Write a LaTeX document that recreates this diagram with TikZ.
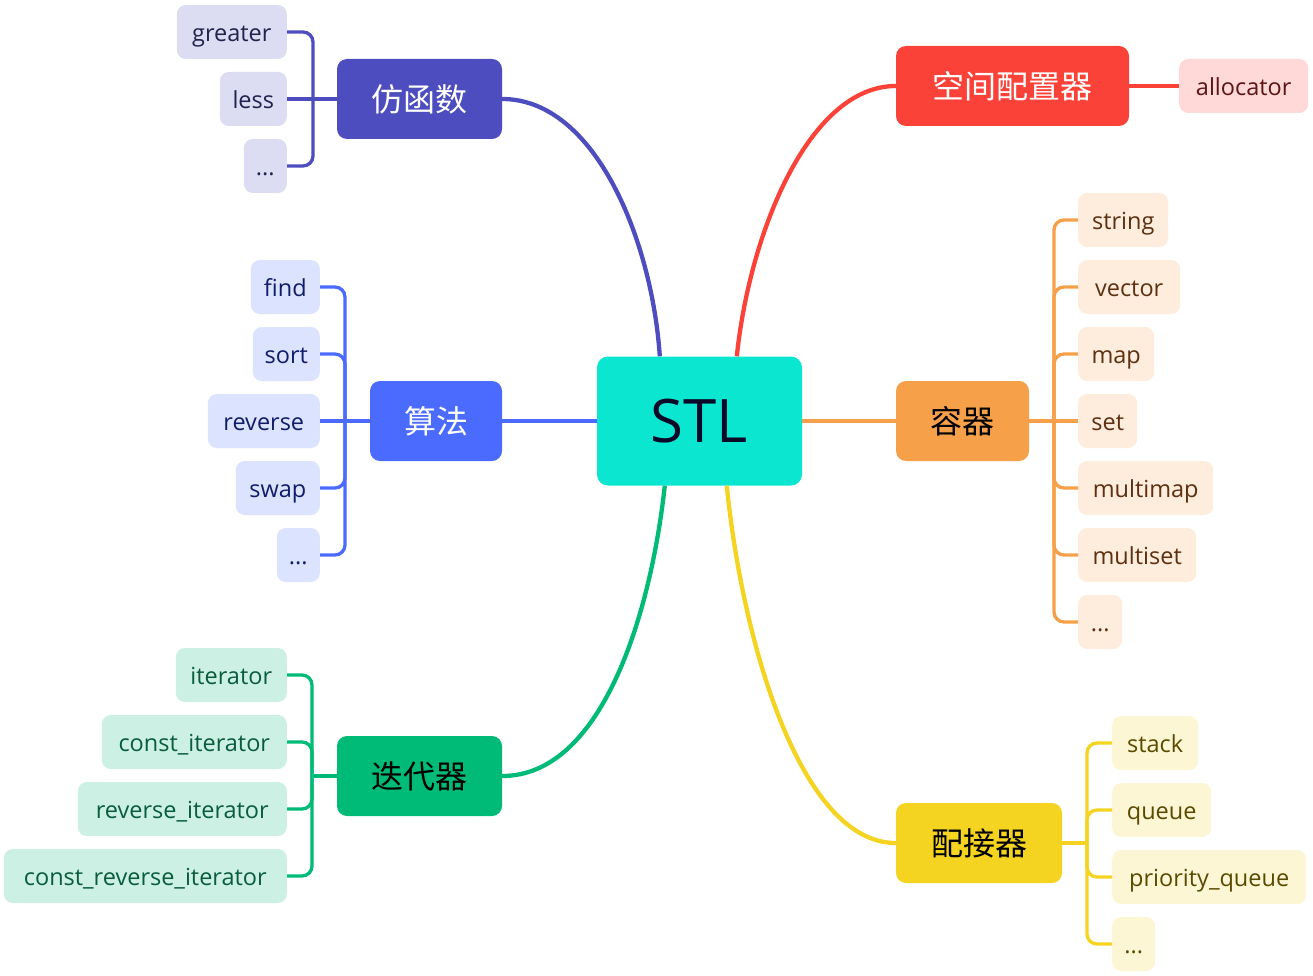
\documentclass[tikz,border=0pt]{standalone}
\usepackage{fontspec}
\setmainfont{Open Sans}
\newfontfamily\cjk{Noto Sans CJK SC}
\usetikzlibrary{calc}
\definecolor{cP}{HTML}{4D4DC0}
\definecolor{cR}{HTML}{FA4238}
\definecolor{cB}{HTML}{4A6BFE}
\definecolor{cO}{HTML}{F7A04A}
\definecolor{cG}{HTML}{00BB77}
\definecolor{cY}{HTML}{F4D421}
\definecolor{cC}{HTML}{0BE6D0}
\definecolor{lP}{HTML}{DCDCF2}
\definecolor{lB}{HTML}{DCE3FF}
\definecolor{lG}{HTML}{CCF1E4}
\definecolor{lR}{HTML}{FED9D7}
\definecolor{lO}{HTML}{FEECDC}
\definecolor{lY}{HTML}{FDF6D4}
\definecolor{tP}{HTML}{22224E}
\definecolor{tB}{HTML}{101E6A}
\definecolor{tG}{HTML}{0A5C3E}
\definecolor{tR}{HTML}{5C1414}
\definecolor{tO}{HTML}{5C3010}
\definecolor{tY}{HTML}{5A4A00}
\definecolor{tN}{HTML}{0A0A28}
\tikzset{
  mainbox/.style={rounded corners=10pt, minimum height=80pt, inner sep=0pt, font=\cjk\fontsize{32}{38}\selectfont},
  leafbox/.style={rounded corners=9pt, minimum height=54pt, inner sep=0pt, text height=19.5pt, text depth=0.5pt, font=\fontsize{23.5}{28}\selectfont},
  mainline/.style={line width=4.3pt},
  subline/.style={line width=3.3pt, rounded corners=10pt},
}
\begin{document}
\begin{tikzpicture}[x=1pt,y=-1pt]
\useasboundingbox (0,0) rectangle (1313,976);
% center
\node[rounded corners=11pt, fill=cC, minimum width=205pt, minimum height=129pt, inner sep=0pt, text=tN, font=\fontsize{60}{70}\selectfont] (stl) at (699.5,421) {STL};
% main branches
\node[mainbox, fill=cP, text=white, minimum width=165pt] (fh) at (419.5,99) {仿函数};
\node[mainbox, fill=cR, text=white, minimum width=233pt] (kj) at (1012.5,86) {空间配置器};
\node[mainbox, fill=cB, text=white, minimum width=132pt] (sf) at (436,421) {算法};
\node[mainbox, fill=cO, text=black, minimum width=133pt] (rq) at (962.5,421) {容器};
\node[mainbox, fill=cG, text=black, minimum width=165pt] (dd) at (419.5,776) {迭代器};
\node[mainbox, fill=cY, text=black, minimum width=166pt] (pj) at (979,843) {配接器};
% main connectors
\draw[mainline, cP] (fh.east) .. controls (595,99) and (652,240) .. ([xshift=63pt]stl.north west);
\draw[mainline, cR] ([xshift=140pt]stl.north west) .. controls (750,230) and (810,86) .. (kj.west);
\draw[mainline, cB] (sf.east) -- (stl.west);
\draw[mainline, cO] (stl.east) -- (rq.west);
\draw[mainline, cG] ([xshift=68pt]stl.south west) .. controls (650,620) and (600,776) .. (dd.east);
\draw[mainline, cY] ([xshift=130pt]stl.south west) .. controls (742,640) and (800,843) .. (pj.west);
% leaves: functors
\node[leafbox, fill=lP, text=tP, minimum width=110pt, anchor=east] (greater) at (287,32) {greater};
\node[leafbox, fill=lP, text=tP, minimum width=67pt, anchor=east] (less) at (287,99) {less};
\node[leafbox, fill=lP, text=tP, minimum width=43pt, anchor=east] (fdots) at (287,166) {...};
\coordinate (jP) at (313,99);
\draw[subline, cP] (fh.west) -- (jP);
\draw[subline, cP] (jP) |- (greater.east);
\draw[subline, cP] (jP) -- (less.east);
\draw[subline, cP] (jP) |- (fdots.east);
% leaves: algorithms
\node[leafbox, fill=lB, text=tB, minimum width=69pt, anchor=east] (find) at (320,287) {find};
\node[leafbox, fill=lB, text=tB, minimum width=67pt, anchor=east] (sort) at (320,354) {sort};
\node[leafbox, fill=lB, text=tB, minimum width=112pt, anchor=east] (reverse) at (320,421) {reverse};
\node[leafbox, fill=lB, text=tB, minimum width=84pt, anchor=east] (swap) at (320,488) {swap};
\node[leafbox, fill=lB, text=tB, minimum width=43pt, anchor=east] (adots) at (320,555) {...};
\coordinate (jB) at (345,421);
\draw[subline, cB] (sf.west) -- (jB);
\draw[subline, cB] (jB) |- (find.east);
\draw[subline, cB] (jB) |- (sort.east);
\draw[subline, cB] (jB) -- (reverse.east);
\draw[subline, cB] (jB) |- (swap.east);
\draw[subline, cB] (jB) |- (adots.east);
% leaves: iterators
\node[leafbox, fill=lG, text=tG, minimum width=111pt, anchor=east] (it1) at (287,675) {iterator};
\node[leafbox, fill=lG, text=tG, minimum width=185pt, anchor=east] (it2) at (287,742) {const\_iterator};
\node[leafbox, fill=lG, text=tG, minimum width=209pt, anchor=east] (it3) at (287,809) {reverse\_iterator};
\node[leafbox, fill=lG, text=tG, minimum width=283pt, anchor=east] (it4) at (287,876) {const\_reverse\_iterator};
\coordinate (jG) at (312,776);
\draw[subline, cG] (dd.west) -- (jG);
\draw[subline, cG] (jG) |- (it1.east);
\draw[subline, cG] (jG) |- (it2.east);
\draw[subline, cG] (jG) |- (it3.east);
\draw[subline, cG] (jG) |- (it4.east);
% leaf: allocator
\node[leafbox, fill=lR, text=tR, minimum width=129pt, anchor=west] (alloc) at (1179,86) {allocator};
\draw[subline, cR] (kj.east) -- (alloc.west);
% leaves: containers
\node[leafbox, fill=lO, text=tO, minimum width=90pt, anchor=west] (c1) at (1078,220) {string};
\node[leafbox, fill=lO, text=tO, minimum width=102pt, anchor=west] (c2) at (1078,287) {vector};
\node[leafbox, fill=lO, text=tO, minimum width=76pt, anchor=west] (c3) at (1078,354) {map};
\node[leafbox, fill=lO, text=tO, minimum width=59pt, anchor=west] (c4) at (1078,421) {set};
\node[leafbox, fill=lO, text=tO, minimum width=135pt, anchor=west] (c5) at (1078,488) {multimap};
\node[leafbox, fill=lO, text=tO, minimum width=118pt, anchor=west] (c6) at (1078,555) {multiset};
\node[leafbox, fill=lO, text=tO, minimum width=44pt, anchor=west] (c7) at (1078,622) {...};
\coordinate (jO) at (1054,421);
\draw[subline, cO] (rq.east) -- (jO);
\draw[subline, cO] (jO) |- (c1.west);
\draw[subline, cO] (jO) |- (c2.west);
\draw[subline, cO] (jO) |- (c3.west);
\draw[subline, cO] (jO) -- (c4.west);
\draw[subline, cO] (jO) |- (c5.west);
\draw[subline, cO] (jO) |- (c6.west);
\draw[subline, cO] (jO) |- (c7.west);
% leaves: adapters
\node[leafbox, fill=lY, text=tY, minimum width=86pt, anchor=west] (a1) at (1112,743) {stack};
\node[leafbox, fill=lY, text=tY, minimum width=99pt, anchor=west] (a2) at (1112,810) {queue};
\node[leafbox, fill=lY, text=tY, minimum width=194pt, anchor=west] (a3) at (1112,877) {priority\_queue};
\node[leafbox, fill=lY, text=tY, minimum width=43pt, anchor=west] (a4) at (1112,944) {...};
\coordinate (jY) at (1087,843);
\draw[subline, cY] (pj.east) -- (jY);
\draw[subline, cY] (jY) |- (a1.west);
\draw[subline, cY] (jY) |- (a2.west);
\draw[subline, cY] (jY) |- (a3.west);
\draw[subline, cY] (jY) |- (a4.west);
\end{tikzpicture}
\end{document}
